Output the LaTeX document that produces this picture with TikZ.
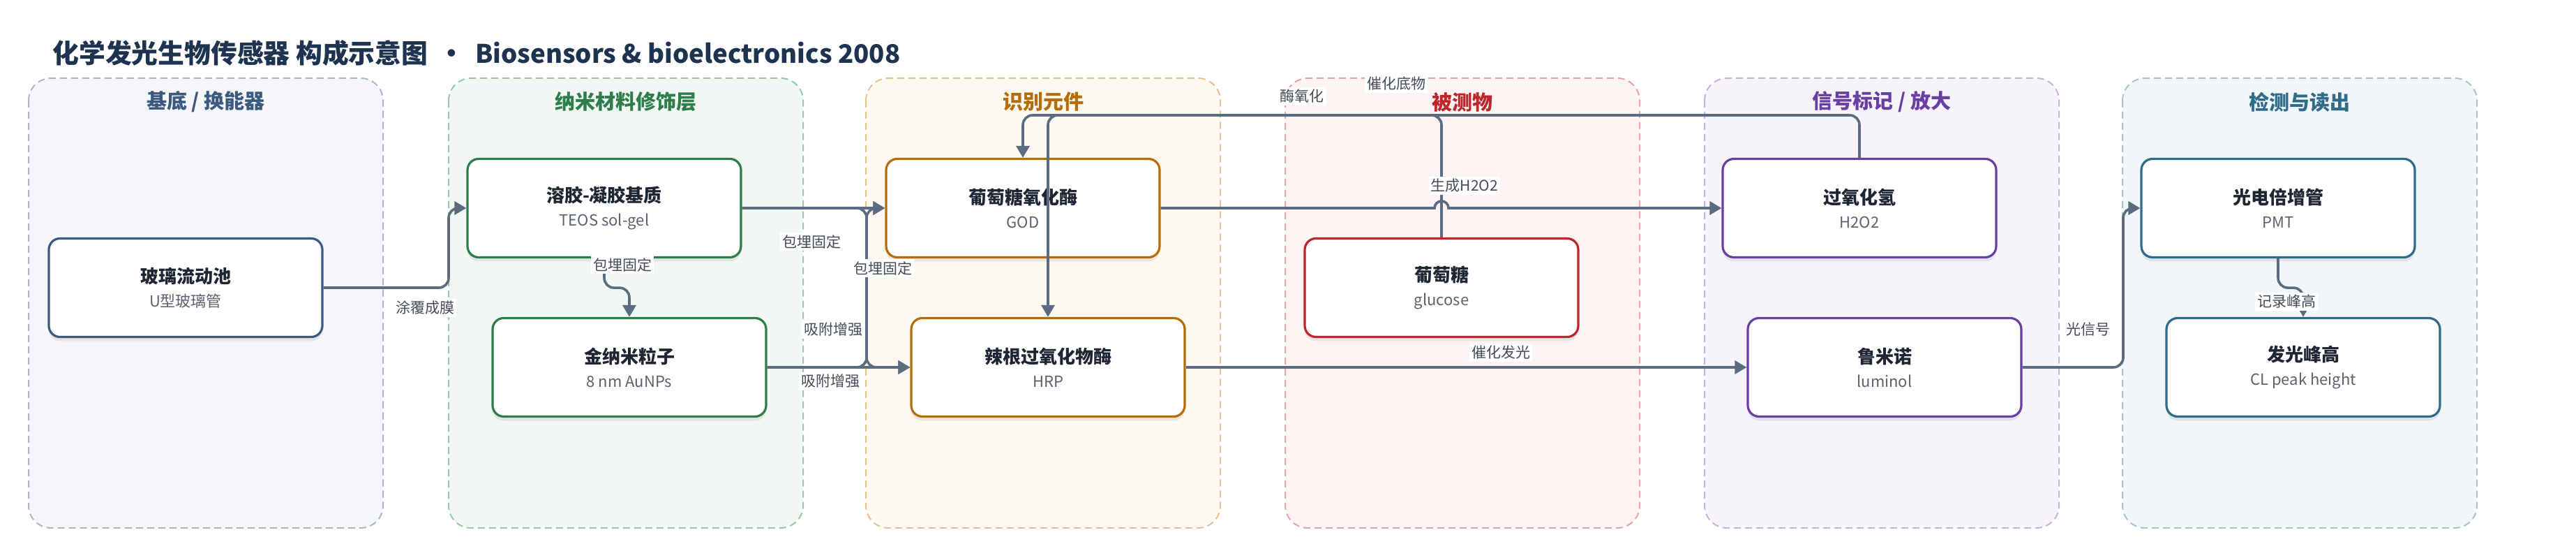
\documentclass[tikz,border=0pt]{standalone}
\usepackage{fontspec}
\setmainfont{Noto Sans CJK SC}
\usetikzlibrary{arrows.meta,shadows}

\definecolor{edgec}{HTML}{5B6B80}
\definecolor{titlec}{HTML}{1E3350}
\definecolor{headc}{HTML}{1F2633}
\definecolor{subc}{HTML}{5A6270}
\definecolor{tagc}{HTML}{454C57}
\definecolor{baseB}{HTML}{A9B6CC}\definecolor{baseF}{HTML}{F4F6FA}\definecolor{baseT}{HTML}{3C5A80}
\definecolor{nanoB}{HTML}{98C9A5}\definecolor{nanoF}{HTML}{F1F8F3}\definecolor{nanoT}{HTML}{2E7D4A}
\definecolor{recoB}{HTML}{E6C28E}\definecolor{recoF}{HTML}{FDF9F1}\definecolor{recoT}{HTML}{B56D0A}
\definecolor{anaB}{HTML}{E8A3A3}\definecolor{anaF}{HTML}{FDF3F3}\definecolor{anaT}{HTML}{BE262B}
\definecolor{sigB}{HTML}{C7B3E0}\definecolor{sigF}{HTML}{F7F3FB}\definecolor{sigT}{HTML}{6A3FA3}
\definecolor{detB}{HTML}{A5C4CF}\definecolor{detF}{HTML}{F1F6F8}\definecolor{detT}{HTML}{2E6C88}

\newcommand{\boxtext}[2]{\textbf{\color{headc}#1}\\{\fontsize{11}{17}\selectfont\color{subc}#2}}

\begin{document}
\begin{tikzpicture}[x=50pt, y=-50pt,
  lane/.style 2 args={draw=#1, fill=#2, dash pattern=on 5pt off 3pt, line width=1pt, rounded corners=16pt},
  lane label/.style={font=\fontsize{14.5}{16}\selectfont\bfseries, text=#1},
  main node/.style={draw=#1, fill=white, line width=1.6pt, rounded corners=8pt, minimum width=196pt, minimum height=70.5pt, align=center, font=\fontsize{13}{17}\selectfont, drop shadow={shadow xshift=0pt, shadow yshift=-3pt, opacity=0.15}},
  link/.style={draw=edgec, line width=1.8pt, rounded corners=7pt, -{Triangle[length=8.5pt,width=9.5pt]}},
  tag/.style={fill=white, inner sep=1.5pt, text=tagc, font=\fontsize{10.5}{12}\selectfont}]
  \useasboundingbox (0,0) rectangle (36.92,7.79);
  \node[anchor=west, inner sep=0pt, text=titlec, font=\fontsize{18.9}{20}\selectfont\bfseries] (title) at (0.75, 0.76) {化学发光生物传感器 构成示意图\hspace{0.4em}•\hspace{0.4em}{\fontsize{18.3}{20}\selectfont Biosensors \& bioelectronics 2008}};
  % lanes
  \draw[lane={baseB}{baseF}] (0.41,1.12) rectangle (5.49,7.56);
  \draw[lane={nanoB}{nanoF}] (6.43,1.12) rectangle (11.51,7.56);
  \draw[lane={recoB}{recoF}] (12.41,1.12) rectangle (17.49,7.56);
  \draw[lane={anaB}{anaF}] (18.42,1.12) rectangle (23.50,7.56);
  \draw[lane={sigB}{sigF}] (24.43,1.12) rectangle (29.51,7.56);
  \draw[lane={detB}{detF}] (30.42,1.12) rectangle (35.50,7.56);
  \node[lane label=baseT] (hbase) at (2.95, 1.46) {基底 / 换能器};
  \node[lane label=nanoT] (hnano) at (8.97, 1.46) {纳米材料修饰层};
  \node[lane label=recoT] (hreco) at (14.95, 1.46) {识别元件};
  \node[lane label=anaT] (hana) at (20.96, 1.46) {被测物};
  \node[lane label=sigT] (hsig) at (26.97, 1.46) {信号标记 / 放大};
  \node[lane label=detT] (hdet) at (32.96, 1.46) {检测与读出};
  % nodes
  \node[main node=baseT] (glass) at (2.66, 4.12) {\boxtext{玻璃流动池}{U型玻璃管}};
  \node[main node=nanoT] (solgel) at (8.66, 2.98) {\boxtext{溶胶-凝胶基质}{TEOS sol-gel}};
  \node[main node=nanoT] (aunp) at (9.02, 5.26) {\boxtext{金纳米粒子}{8 nm AuNPs}};
  \node[main node=recoT] (god) at (14.66, 2.98) {\boxtext{葡萄糖氧化酶}{GOD}};
  \node[main node=recoT] (hrp) at (15.02, 5.26) {\boxtext{辣根过氧化物酶}{HRP}};
  \node[main node=anaT] (glucose) at (20.66, 4.12) {\boxtext{葡萄糖}{glucose}};
  \node[main node=sigT] (h2o2) at (26.65, 2.98) {\boxtext{过氧化氢}{H2O2}};
  \node[main node=sigT] (lumin) at (27.01, 5.26) {\boxtext{鲁米诺}{luminol}};
  \node[main node=detT] (pmt) at (32.65, 2.98) {\boxtext{光电倍增管}{PMT}};
  \node[main node=detT] (peak) at (33.01, 5.26) {\boxtext{发光峰高}{CL peak height}};
  % connectors
  \draw[link] (glass.east) -| (6.43,2.98) -- (solgel.west);
  \draw[link] (solgel.south) -- ++(0,0.42) -| (aunp.north);
  \draw[link] (solgel.east) -- (god.west);
  \draw[link] (solgel.east) -| (12.42,5.26) -- (hrp.west);
  \draw[link] (aunp.east) -| (12.42,2.98) -- (god.west);
  \draw[link] (aunp.east) -- (hrp.west);
  \draw[link, sharp corners] (god.east) -- (20.56,2.98) arc[start angle=180, end angle=360, radius=0.1] -- (h2o2.west);
  \draw[link] (glucose.north) |- (14.66,1.65) -- (god.north);
  \draw[link] (h2o2.north) |- (15.02,1.65) -- (hrp.north);
  \draw[link] (hrp.east) -- (lumin.west);
  \draw[link] (lumin.east) -| (30.43,2.98) -- (pmt.west);
  \draw[link] (pmt.south) -- ++(0,0.42) -| (peak.north);
  % connector labels
  \node[tag] (tcoat) at (6.09, 4.41) {涂覆成膜};
  \node[tag] (tembed) at (8.92, 3.79) {包埋固定};
  \node[tag] (tembedgod) at (11.63, 3.46) {包埋固定};
  \node[tag] (tembedhrp) at (12.65, 3.84) {包埋固定};
  \node[tag] (tadsgod) at (11.94, 4.72) {吸附增强};
  \node[tag] (tadshrp) at (11.90, 5.46) {吸附增强};
  \node[tag] (toxid) at (18.66, 1.38) {酶氧化};
  \node[tag] (tsubst) at (20.01, 1.20) {催化底物};
  \node[tag] (tmake) at (20.99, 2.66) {生成H2O2};
  \node[tag] (tglow) at (21.51, 5.05) {催化发光};
  \node[tag] (tlight) at (29.93, 4.72) {光信号};
  \node[tag] (trecord) at (32.77, 4.32) {记录峰高};
\end{tikzpicture}
\end{document}
